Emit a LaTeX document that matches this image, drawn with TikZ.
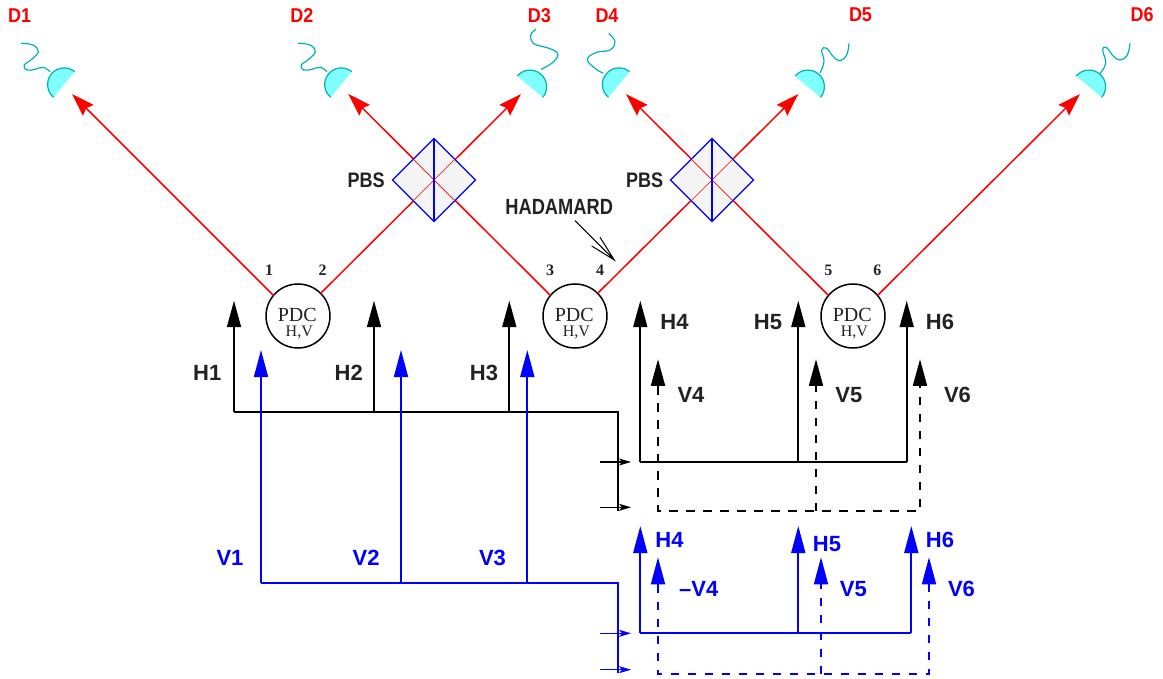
\documentclass[tikz,border=0pt]{standalone}
\usepackage{fontspec}
\setmainfont{Liberation Serif}
\setsansfont{Liberation Sans}
\newfontfamily\labfont{Liberation Sans}
\newfontfamily\dfont[FakeStretch=0.9]{Liberation Sans}
\newfontfamily\pfont[FakeStretch=0.86]{Liberation Sans}
\newfontfamily\hfont[FakeStretch=0.83]{Liberation Sans}
\usetikzlibrary{arrows.meta,shapes.geometric}
\definecolor{myred}{RGB}{255,0,0}
\definecolor{myblue}{RGB}{0,0,255}
\definecolor{dk}{RGB}{34,34,34}
\definecolor{detfill}{RGB}{128,255,255}
\definecolor{detline}{RGB}{0,178,178}
\tikzset{
  redray/.style={color=myred,line width=1.5pt,-{Stealth[length=23pt,width=15pt,inset=3pt]}},
  redthin/.style={color=myred,line width=0.7pt},
  blk/.style={color=black,line width=1.7pt},
  blu/.style={color=myblue,line width=1.7pt},
  upb/.style={color=black,line width=1.7pt,-{Triangle[length=26.5pt,width=14pt]}},
  upu/.style={color=myblue,line width=1.7pt,-{Triangle[length=27pt,width=14pt]}},
  hd/.style={line width=1.6pt,dash pattern=on 8.5pt off 8.5pt},
  smallb/.style={color=black,line width=1.1pt,-{Stealth[length=12pt,width=7pt,inset=3pt]}},
  smallu/.style={color=myblue,line width=1.1pt,-{Stealth[length=12pt,width=7pt,inset=3pt]}},
  pdc/.style={circle,draw=black,line width=1.5pt,fill=white,minimum size=64pt,inner sep=0pt,outer sep=0pt},
  pdct/.style={inner sep=0pt,font=\rmfamily\fontsize{20}{20}\selectfont,text=dk},
  pdcs/.style={inner sep=0pt,font=\rmfamily\fontsize{16}{16}\selectfont,text=dk},
  numl/.style={inner sep=0pt,font=\rmfamily\bfseries\fontsize{16}{16}\selectfont,text=dk},
  pbs/.style={diamond,draw=myblue,line width=1.3pt,fill=black!4,minimum width=83pt,minimum height=83pt,inner sep=0pt,outer sep=0pt},
  dlab/.style={inner sep=0pt,font=\dfont\bfseries\fontsize{20}{20}\selectfont,text=myred},
  blab/.style={inner sep=0pt,font=\labfont\bfseries\fontsize{22}{22}\selectfont,text=dk},
  ulab/.style={inner sep=0pt,font=\labfont\bfseries\fontsize{22}{22}\selectfont,text=myblue},
  plab/.style={inner sep=0pt,font=\pfont\bfseries\fontsize{21}{21}\selectfont,text=dk},
  hlab/.style={inner sep=0pt,font=\hfont\bfseries\fontsize{22}{22}\selectfont,text=dk},
  wig/.style={color=detline,line width=1.2pt}
}
\newcommand{\detector}[3]{%
  \begin{scope}[shift={(#1,#2)},rotate=#3,x=1pt,y=1pt]
    \path[fill=detfill] (0,-16.6) .. controls (-9.2,-16.6) and (-16.6,-9.2) .. (-16.6,0)
      .. controls (-16.6,9.2) and (-9.2,16.6) .. (0,16.6) -- cycle;
    \draw[wig] (0,-16.6) .. controls (-9.2,-16.6) and (-16.6,-9.2) .. (-16.6,0)
      .. controls (-16.6,9.2) and (-9.2,16.6) .. (0,16.6);
  \end{scope}}
\begin{document}
\begin{tikzpicture}[x=1pt,y=-1pt]
\useasboundingbox (0,0) rectangle (1163,679);
% PDC crystals
\node[pdc] (pdc1) at (298,316) {};
\node[pdc] (pdc2) at (575,316) {};
\node[pdc] (pdc3) at (853,316) {};
\foreach \n/\x in {1/297.3,2/574.3,3/852.3}{
  \node[pdct] (pt\n) at (\x,315) {PDC};
  \node[pdcs] (ps\n) at (\x+2,332) {H,V};
}
% arrow tips
\coordinate (t1) at (72,94);
\coordinate (t2) at (348.3,94);
\coordinate (t3) at (521,94);
\coordinate (t4) at (626,94);
\coordinate (t5) at (798.3,94);
\coordinate (t6) at (1080,94);
% red rays
\draw[redray] (pdc1.140) -- (t1);
\draw[redray] (pdc1.45) -- (t3);
\draw[redray] (pdc2.140) -- (t2);
\draw[redray] (pdc2.45) -- (t5);
\draw[redray] (pdc3.140) -- (t4);
\draw[redray] (pdc3.40) -- (t6);
% PBS
\foreach \n/\x in {1/434,2/712}{
  \node[pbs] (pbs\n) at (\x,180) {};
  \draw[redthin] (pbs\n.north west) -- (pbs\n.south east);
  \draw[redthin] (pbs\n.north east) -- (pbs\n.south west);
  \draw[color=myblue,line width=1.3pt] (pbs\n.north) -- (pbs\n.south);
}
\node[plab] (lp1) at (366.2,180) {PBS};
\node[plab] (lp2) at (644.7,180) {PBS};
\node[hlab] (had) at (559.2,206.5) {HADAMARD};
% Hadamard arrow
\coordinate (ha) at (575,220.7);
\coordinate (hb) at (614.3,260);
\coordinate (hc) at (600,237.3);
\coordinate (hdd) at (591.7,246);
\draw[line width=1pt] (ha) -- (hb) (hc) -- (hb) -- (hdd);
% numbers
\node[numl] (n1) at (269,270) {1};
\node[numl] (n2) at (322.7,270) {2};
\node[numl] (n3) at (550,270) {3};
\node[numl] (n4) at (600,270) {4};
\node[numl] (n5) at (828.3,270) {5};
\node[numl] (n6) at (877.3,270) {6};
% detectors
\detector{64.2}{84.5}{-39.4}
\detector{341.3}{84.5}{-39.4}
\detector{619}{84.5}{-39.4}
\detector{530}{86.7}{-130}
\detector{807.8}{86.7}{-130}
\detector{1089}{86.7}{-130}
\draw[wig] plot[smooth,tension=0.7] coordinates {(21,43.3)(33,45)(38.3,51.7)(31.7,59.3)(24.3,65)(26.7,70)(35,69.3)(43.3,67.3)(50,71.7)};
\draw[wig] plot[smooth,tension=0.7] coordinates {(298,43.3)(310,45)(315.3,51.7)(308.7,59.3)(301.3,65)(303.7,70)(312,69.3)(320.3,67.3)(327,71.7)};
\draw[wig] plot[smooth,tension=0.7] coordinates {(536,29.3)(530.7,35)(533.3,43.3)(543.3,46.7)(553.3,50)(558,55)(551.7,63.3)(541,69.3)};
\draw[wig] plot[smooth,tension=0.7] coordinates {(608.7,33.3)(615,41.7)(610,50)(596.7,52.3)(587.3,59.3)(595,68.3)(603.3,73.3)};
\draw[wig] plot[smooth,tension=0.7] coordinates {(849,43.3)(846.7,55)(840,60.7)(833.3,56.7)(826.7,48.3)(821.7,50)(824,61.7)(820,72.7)};
\draw[wig] plot[smooth,tension=0.7] coordinates {(1130,43.3)(1127.3,55)(1120,60)(1113.3,56)(1106.7,47.7)(1102.7,50)(1105.7,63.3)(1100,73.3)};
% detector labels
\node[dlab] (d1) at (19.7,15.5) {D1};
\node[dlab] (d2) at (302,15.5) {D2};
\node[dlab] (d3) at (539.5,16) {D3};
\node[dlab] (d4) at (607,16) {D4};
\node[dlab] (d5) at (860.5,15) {D5};
\node[dlab] (d6) at (1142,15) {D6};
% black H feed, left
\coordinate (bh1) at (234,412.3);
\coordinate (bh2) at (374,412.3);
\coordinate (bh3) at (509.3,412.3);
\coordinate (bhc) at (617.7,412.3);
\coordinate (bhe) at (617.7,510.7);
\draw[blk] (bh1) -- (bhc) -- (bhe);
\draw[upb] (bh1) -- (234,300.7);
\draw[upb] (bh2) -- (374,300.7);
\draw[upb] (bh3) -- (509.3,300.7);
% black small arrows
\coordinate (sa1) at (600,462); \coordinate (sa2) at (631,462);
\coordinate (sa3) at (600,507.3); \coordinate (sa4) at (631,507.3);
\draw[smallb] (sa1) -- (sa2);
\draw[smallb] (sa3) -- (sa4);
% black H, right
\coordinate (rh4) at (640.3,462);
\coordinate (rh5) at (798.3,462);
\coordinate (rh6) at (906.7,462);
\draw[blk] (rh4) -- (rh6);
\draw[upb] (rh4) -- (640.3,300.7);
\draw[upb] (rh5) -- (798.3,300.7);
\draw[upb] (rh6) -- (906.7,300.7);
% black V, dashed, right
\coordinate (rv4) at (658,511);
\coordinate (rv5) at (816,511);
\coordinate (rv6) at (920,511);
\coordinate (rvt4) at (658,386);
\coordinate (rvt5) at (816,386);
\coordinate (rvt6) at (920,386);
\draw[color=black,hd] (rvt4) -- (rv4) -- (rv6) -- (rvt6);
\draw[color=black,hd] (rv5) -- (rvt5);
\draw[upb] (rvt4) -- (658,359.3);
\draw[upb] (rvt5) -- (816,359.3);
\draw[upb] (rvt6) -- (920,359.3);
% blue V feed, left
\coordinate (bv1) at (261,583.2);
\coordinate (bv2) at (401,583.2);
\coordinate (bv3) at (527.3,583.2);
\coordinate (bvc) at (617.7,583.2);
\coordinate (bve) at (617.7,673.3);
\draw[blu] (bv1) -- (bvc) -- (bve);
\draw[upu] (bv1) -- (261,350);
\draw[upu] (bv2) -- (401,350);
\draw[upu] (bv3) -- (527.3,350);
% blue small arrows
\coordinate (sb1) at (600,633.3); \coordinate (sb2) at (631,633.3);
\coordinate (sb3) at (600,669.7); \coordinate (sb4) at (631,669.7);
\draw[smallu] (sb1) -- (sb2);
\draw[smallu] (sb3) -- (sb4);
% blue H, right
\coordinate (uh4) at (640.3,633.3);
\coordinate (uh5) at (798.3,633.3);
\coordinate (uh6) at (911.3,633.3);
\draw[blu] (uh4) -- (uh6);
\draw[upu] (uh4) -- (640.3,526);
\draw[upu] (uh5) -- (798.3,526);
\draw[upu] (uh6) -- (911.3,526);
% blue V, dashed, right
\coordinate (uv4) at (658,674);
\coordinate (uv5) at (821,674);
\coordinate (uv6) at (929,674);
\coordinate (uvt4) at (658,584.7);
\coordinate (uvt5) at (821,584.7);
\coordinate (uvt6) at (929,584.7);
\draw[color=myblue,hd] (uvt4) -- (uv4) -- (uv6) -- (uvt6);
\draw[color=myblue,hd] (uv5) -- (uvt5);
\draw[upu] (uvt4) -- (658,557.3);
\draw[upu] (uvt5) -- (821,557.3);
\draw[upu] (uvt6) -- (929,557.3);
% labels
\node[blab] (lh1) at (207.3,372.8) {H1};
\node[blab] (lh2) at (348.7,372.8) {H2};
\node[blab] (lh3) at (484,372.8) {H3};
\node[blab] (lh4) at (674.5,322.3) {H4};
\node[blab] (lh5) at (768,322.3) {H5};
\node[blab] (lh6) at (940,322.3) {H6};
\node[blab] (lv4) at (691,394.7) {V4};
\node[blab] (lv5) at (848.8,394.7) {V5};
\node[blab] (lv6) at (957.5,394.7) {V6};
\node[ulab] (uv1l) at (230,557.8) {V1};
\node[ulab] (uv2l) at (366.2,557.8) {V2};
\node[ulab] (uv3l) at (492.5,557.8) {V3};
\node[ulab] (uh4l) at (669.5,539.8) {H4};
\node[ulab] (uh5l) at (827,543.7) {H5};
\node[ulab] (uh6l) at (940,539.8) {H6};
\node[ulab] (uv4l) at (698.7,589) {–V4};
\node[ulab] (uv5l) at (853.3,589) {V5};
\node[ulab] (uv6l) at (961.5,589) {V6};
\end{tikzpicture}
\end{document}
